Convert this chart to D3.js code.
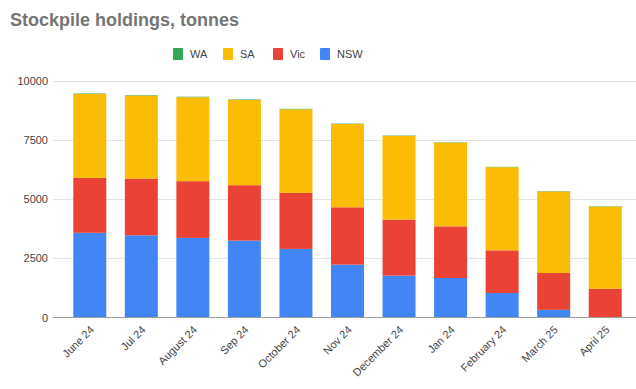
<!DOCTYPE html>
<html>
<head>
<meta charset="utf-8">
<script src="https://cdn.jsdelivr.net/npm/d3@7"></script>
<style>
  body { margin: 0; background: #fff; }
  svg { display: block; font-family: "Liberation Sans", Arial, sans-serif; }
</style>
</head>
<body>
<svg id="chart" width="636" height="389"></svg>
<script>
// 数据
const months = ['June 24', 'Jul 24', 'August 24', 'Sep 24', 'October 24', 'Nov 24',
  'December 24', 'Jan 24', 'February 24', 'March 25', 'April 25'];
const nsw = [3580, 3475, 3365, 3250, 2900, 2235, 1770, 1670, 1035, 325, 0];
const vic = [2325, 2390, 2400, 2345, 2370, 2425, 2370, 2185, 1805, 1555, 1215];
const sa  = [3545, 3520, 3550, 3605, 3535, 3525, 3540, 3540, 3515, 3445, 3475];
const wa  = [20, 20, 20, 20, 20, 15, 15, 15, 15, 15, 15];
const yTicks = [0, 2500, 5000, 7500, 10000];

const seriesKeys = ['NSW', 'Vic', 'SA', 'WA'];   // 自下而上
const legendKeys = ['WA', 'SA', 'Vic', 'NSW'];
const colors = { WA: '#34a853', SA: '#fbbc04', Vic: '#ea4335', NSW: '#4285f4' };

const rows = months.map((m, i) => ({ month: m, NSW: nsw[i], Vic: vic[i], SA: sa[i], WA: wa[i] }));

const svg = d3.select('#chart');
const plot = { left: 53, right: 636, top: 81, bottom: 317.5 };

const x = d3.scaleBand()
  .domain(months)
  .range([64, 631])
  .paddingInner(0.36)
  .paddingOuter(0.18);

const y = d3.scaleLinear()
  .domain([0, 10000])
  .range([plot.bottom, plot.top]);

// 标题
svg.append('text')
  .attr('x', 10)
  .attr('y', 26)
  .attr('fill', '#757575')
  .attr('font-size', '18px')
  .attr('font-weight', 'bold')
  .text('Stockpile holdings, tonnes');

// 图例
const legendX = [173, 223, 273, 320];
const legend = svg.append('g').attr('class', 'legend');
legendKeys.forEach((k, i) => {
  const g = legend.append('g').attr('transform', `translate(${legendX[i]}, 48)`);
  g.append('rect')
    .attr('width', 10).attr('height', 12).attr('rx', 1)
    .attr('fill', colors[k]);
  g.append('text')
    .attr('x', 17).attr('y', 10)
    .attr('font-size', '11px')
    .attr('fill', '#444')
    .text(k);
});

// 网格线
svg.append('g')
  .selectAll('line')
  .data(yTicks.filter(d => d > 0))
  .enter()
  .append('line')
  .attr('x1', plot.left).attr('x2', plot.right)
  .attr('y1', d => Math.round(y(d)) + 0.5)
  .attr('y2', d => Math.round(y(d)) + 0.5)
  .attr('stroke', '#e3e3e3')
  .attr('stroke-width', 1);

// Y 轴
const yAxis = d3.axisLeft(y)
  .tickValues(yTicks)
  .tickFormat(d3.format('d'))
  .tickSize(0)
  .tickPadding(0);

svg.append('g')
  .attr('transform', `translate(48, 0)`)
  .call(yAxis)
  .call(g => {
    g.select('.domain').remove();
    g.selectAll('.tick text')
      .attr('fill', '#444')
      .attr('font-size', '11px')
      .attr('font-family', '"Liberation Sans", Arial, sans-serif');
  });

// 堆叠柱
const stack = d3.stack().keys(seriesKeys);
const layers = stack(rows);

svg.append('g')
  .selectAll('g')
  .data(layers)
  .enter()
  .append('g')
  .attr('fill', d => colors[d.key])
  .selectAll('rect')
  .data(d => d)
  .enter()
  .append('rect')
  .attr('x', d => x(d.data.month))
  .attr('width', x.bandwidth())
  .attr('y', d => y(d[1]))
  .attr('height', d => Math.max(0, y(d[0]) - y(d[1])));

// 基线
svg.append('line')
  .attr('x1', plot.left).attr('x2', plot.right)
  .attr('y1', plot.bottom).attr('y2', plot.bottom)
  .attr('stroke', '#9e9e9e')
  .attr('stroke-width', 1);

// X 轴标签
const xAxis = d3.axisBottom(x).tickSize(0).tickPadding(0);
svg.append('g')
  .attr('transform', `translate(0, ${plot.bottom})`)
  .call(xAxis)
  .call(g => {
    g.select('.domain').remove();
    g.selectAll('.tick text')
      .attr('fill', '#444')
      .attr('font-size', '11px')
      .attr('font-family', '"Liberation Sans", Arial, sans-serif')
      .attr('text-anchor', 'end')
      .attr('dy', 0)
      .attr('transform', 'translate(5, 13) rotate(-45)');
  });
</script>
</body>
</html>
